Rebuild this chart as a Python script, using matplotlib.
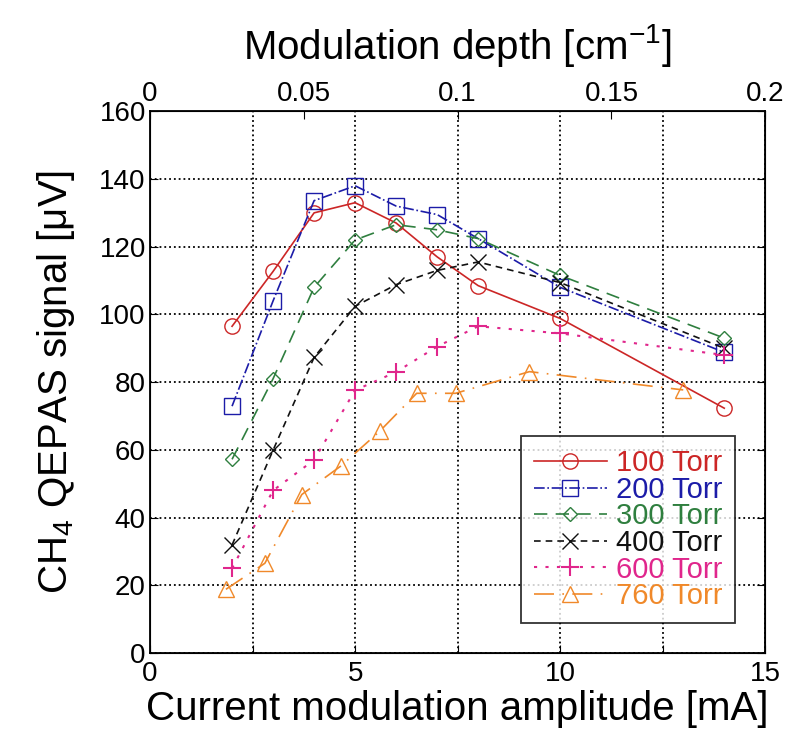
import numpy as np
import matplotlib
matplotlib.use("Agg")
import matplotlib.pyplot as plt

plt.rcParams['font.family'] = ['Liberation Sans', 'DejaVu Sans']
plt.rcParams['mathtext.fontset'] = 'custom'
plt.rcParams['mathtext.rm'] = 'Liberation Sans'
plt.rcParams['mathtext.it'] = 'Liberation Sans'

# current modulation amplitude [mA]
x_std = [2, 3, 4, 5, 6, 7, 8, 10, 14]
x_760 = [1.85, 2.8, 3.7, 4.65, 5.6, 6.5, 7.45, 9.25, 13.0]

# CH4 QEPAS signal [uV]
y_100 = [96.5, 112.7, 130, 133, 127, 117, 108.5, 98.8, 72.3]
y_200 = [72.9, 104, 133.6, 138, 132, 129.5, 122.4, 108, 88.8]
y_300 = [57.2, 81, 108, 122, 126.5, 125, 122.4, 111.5, 93]
y_400 = [31.9, 59.9, 87.3, 102.4, 108.8, 113, 115.5, 109.4, 90]
y_600 = [25, 48, 57, 77.6, 83, 90.5, 96.5, 94.4, 88]
y_760 = [18.8, 26.5, 46.8, 55.2, 65.5, 76.7, 76.7, 83.1, 77.7]

labels = ['100 Torr', '200 Torr', '300 Torr', '400 Torr', '600 Torr', '760 Torr']
colors = ['#cc2626', '#1c1ca8', '#2f7f3f', '#111111', '#e0268c', '#f0892a']

top_ticks = [0, 0.05, 0.1, 0.15, 0.2]
top_labels = ['0', '0.05', '0.1', '0.15', '0.2']

fig = plt.figure(figsize=(7.98, 7.42), dpi=100)
ax = fig.add_axes([0.188, 0.12, 0.771, 0.73])

ms = 11
ax.plot(x_std, y_100, color=colors[0], ls='-', lw=1.2, marker='o', mfc='none', ms=ms, label=labels[0])
ax.plot(x_std, y_200, color=colors[1], ls='-.', lw=1.2, marker='s', mfc='none', ms=ms, label=labels[1])
ax.plot(x_std, y_300, color=colors[2], ls=(0, (8, 5)), lw=1.2, marker='D', mfc='none', ms=7.5, label=labels[2])
ax.plot(x_std, y_400, color=colors[3], ls=(0, (4, 3)), lw=1.2, marker='x', ms=ms, label=labels[3])
ax.plot(x_std, y_600, color=colors[4], ls=(0, (1.5, 4)), lw=1.5, marker='+', ms=13, mew=1.5, label=labels[4])
ax.plot(x_760, y_760, color=colors[5], ls=(0, (12, 5, 1, 5)), lw=1.2, marker='^', mfc='none', ms=ms, label=labels[5])

ax.set_xlim(0, 15)
ax.set_ylim(0, 160)
ax.set_xticks(np.arange(0, 15.1, 2.5))
ax.set_xticklabels(['0', '', '5', '', '10', '', '15'])
ax.set_yticks(np.arange(0, 161, 20))
ax.tick_params(direction='in', labelsize=20, length=6, right=True, pad=6)
ax.tick_params(axis='y', pad=3)
ax.grid(True, color='black', ls=':', lw=1.3)
ax.set_xlabel('Current modulation amplitude [mA]', fontsize=29, labelpad=2)
ax.set_ylabel('CH$_4$ QEPAS signal [\u03bcV]', fontsize=29, labelpad=16)
for s in ax.spines.values():
    s.set_linewidth(1.3)

leg = ax.legend(loc='lower right', fontsize=21, frameon=True, fancybox=False,
                edgecolor='black', handlelength=2.5, handletextpad=0.3,
                borderpad=0.45, labelspacing=-0.05, borderaxespad=0,
                bbox_to_anchor=(0.951, 0.055))
leg.get_frame().set_linewidth(1.3)
for t, c in zip(leg.get_texts(), colors):
    t.set_color(c)

ax2 = ax.twiny()
ax2.set_xlim(0, 0.2)
ax2.set_xticks(top_ticks)
ax2.set_xticklabels(top_labels)
ax2.tick_params(direction='in', labelsize=20, length=6, pad=3)
ax2.set_xlabel('Modulation depth [cm$^{-1}$]', fontsize=29, labelpad=16)

fig.savefig('out.png', dpi=100)
